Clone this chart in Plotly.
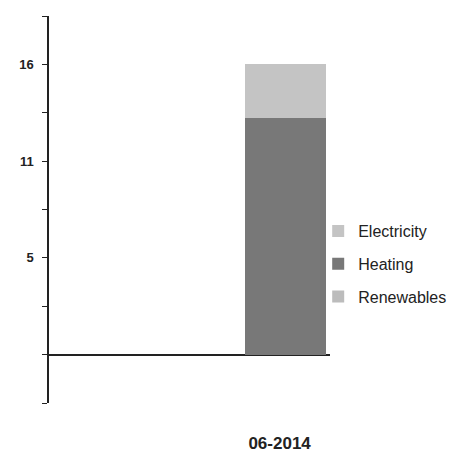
import plotly.graph_objects as go

categories = ["06-2014"]
series_names = ["Renewables", "Heating", "Electricity"]
renewables = [0.0]
heating = [13.2]
electricity = [3.0]
colors = {"Renewables": "#bcbcbc", "Heating": "#787878", "Electricity": "#c4c4c4"}
legend_rank = {"Electricity": 1, "Heating": 2, "Renewables": 3}

y_tick_vals = [-2.7, 0, 2.7, 5.4, 8.1, 10.8, 13.5, 16.2, 18.9]
y_tick_labels = ["", "", "", "5", "", "11", "", "16", ""]

values = {"Renewables": renewables, "Heating": heating, "Electricity": electricity}

FONT = "Liberation Sans, Arial, Helvetica, sans-serif"

fig = go.Figure()
for name in series_names:
    fig.add_trace(go.Bar(
        x=categories, y=values[name], name=name,
        marker=dict(color=colors[name], line=dict(width=0)),
        width=0.8, legendgroup=name, legendrank=legend_rank[name],
    ))

fig.update_layout(
    width=458, height=453,
    margin=dict(l=49, r=128, t=16, b=50, autoexpand=False),
    barmode="stack",
    plot_bgcolor="white", paper_bgcolor="white",
    font=dict(family=FONT, color="#222222"),
    showlegend=True,
    legend=dict(
        traceorder="grouped", tracegroupgap=9,
        x=0.958, xanchor="left", y=0.359, yanchor="middle",
        font=dict(size=16, color="#222222", family=FONT),
        itemwidth=30, bgcolor="rgba(0,0,0,0)",
    ),
    xaxis=dict(
        range=[-2.339, 0.439], showline=False, showgrid=False, zeroline=False,
        automargin=False,
        ticks="", tickfont=dict(size=17, color="#222222", family=FONT, weight="bold"),
        ticklabelshift=-6, ticklabelstandoff=28,
    ),
    yaxis=dict(
        range=[-2.7, 18.9], showline=True, linecolor="#222222", linewidth=1.5,
        showgrid=False, zeroline=True, zerolinecolor="#222222", zerolinewidth=1.5,
        automargin=False,
        ticks="outside", ticklen=5, tickwidth=1.2, tickcolor="#222222",
        tickmode="array", tickvals=y_tick_vals, ticktext=y_tick_labels,
        tickfont=dict(size=13, color="#222222", family=FONT, weight="bold"),
        ticklabelstandoff=6,
    ),
    bargap=0,
)

fig.write_html(
    "out.html",
    config={"displayModeBar": False},
    post_script="document.body.style.margin='0';document.body.style.overflow='hidden';",
)
